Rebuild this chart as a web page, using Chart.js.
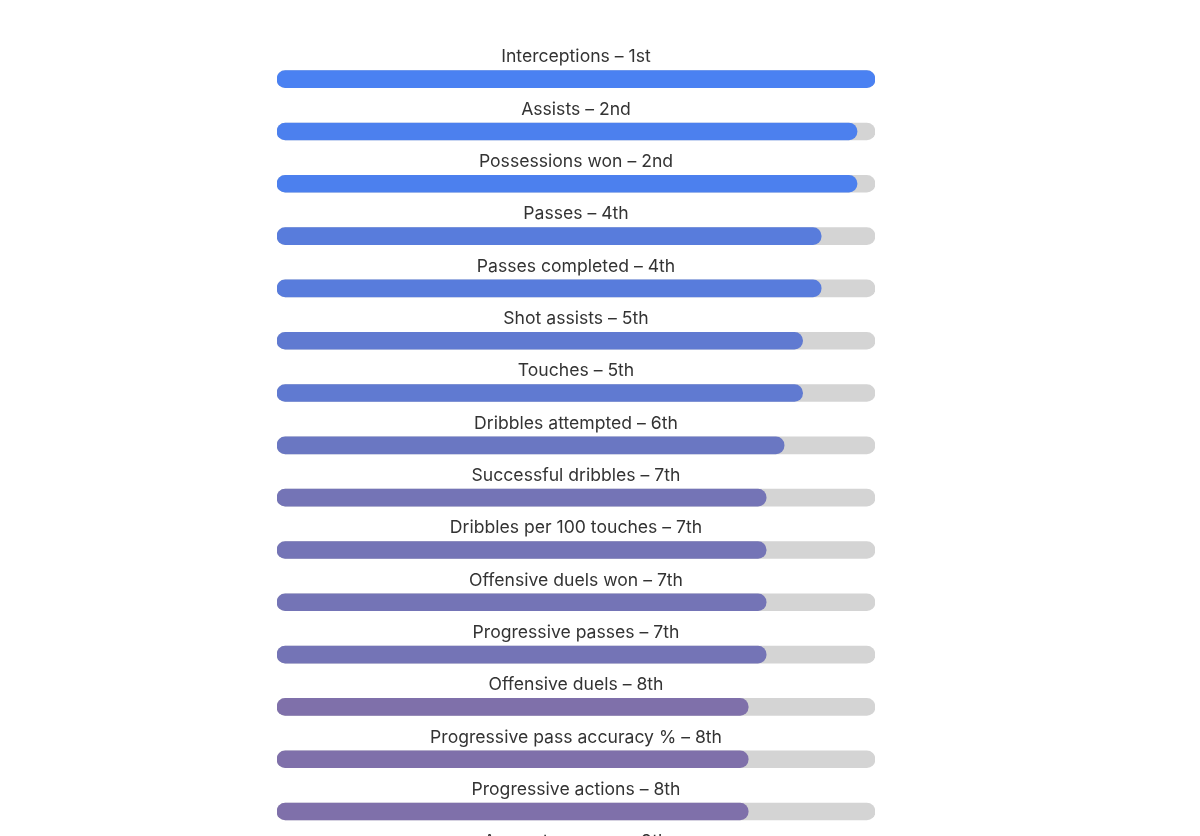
<!DOCTYPE html>
<html>
<head>
<meta charset="utf-8">
<script src="https://cdn.jsdelivr.net/npm/chart.js@4/dist/chart.umd.min.js"></script>
<style>
  html, body { margin: 0; padding: 0; background: #ffffff; overflow: hidden; }
  #wrap { position: relative; width: 1200px; height: 890px; }
</style>
</head>
<body>
<div id="wrap"><canvas id="c" width="1200" height="890"></canvas></div>
<script>
const categories = [
  "Interceptions", "Assists", "Possessions won", "Passes", "Passes completed",
  "Shot assists", "Touches", "Dribbles attempted", "Successful dribbles",
  "Dribbles per 100 touches", "Offensive duels won", "Progressive passes",
  "Offensive duels", "Progressive pass accuracy %", "Progressive actions",
  "Accurate passes"
];
const ranks = ["1st", "2nd", "2nd", "4th", "4th", "5th", "5th", "6th", "7th", "7th", "7th", "7th", "8th", "8th", "8th", "9th"];
const percentiles = [100, 97, 97, 91, 91, 87.9, 87.9, 84.8, 81.8, 81.8, 81.8, 81.8, 78.8, 78.8, 78.8, 75.8];
const trackValues = [100, 100, 100, 100, 100, 100, 100, 100, 100, 100, 100, 100, 100, 100, 100, 100];

const rankColors = {
  "1st": "#4a81f2", "2nd": "#4c80ee", "4th": "#587cdc", "5th": "#607ad1",
  "6th": "#6a77c2", "7th": "#7474b6", "8th": "#7f70aa", "9th": "#8470a5"
};

const labelPlugin = {
  id: "rowLabels",
  afterDatasetsDraw(chart) {
    const ctx = chart.ctx;
    const ys = chart.scales.y;
    const area = chart.chartArea;
    const cx = (area.left + area.right) / 2;
    ctx.save();
    ctx.font = "17.6px Inter, 'Noto Sans', sans-serif";
    ctx.fillStyle = "#333333";
    ctx.textAlign = "center";
    ctx.textBaseline = "middle";
    categories.forEach((c, i) => {
      ctx.fillText(c + " \u2013 " + ranks[i], cx, ys.getPixelForValue(i) - 22);
    });
    ctx.restore();
  }
};

new Chart(document.getElementById("c"), {
  type: "bar",
  data: {
    labels: categories,
    datasets: [
      {
        data: percentiles,
        backgroundColor: ranks.map(r => rankColors[r]),
        barThickness: 17,
        borderRadius: 9,
        borderSkipped: false,
        grouped: false
      },
      {
        data: trackValues,
        backgroundColor: "#d4d4d4",
        barThickness: 17,
        borderRadius: 9,
        borderSkipped: false,
        grouped: false
      }
    ]
  },
  options: {
    indexAxis: "y",
    responsive: false,
    animation: false,
    devicePixelRatio: 1,
    layout: { padding: { left: 277, right: 325, top: 53, bottom: 0 } },
    plugins: { legend: { display: false }, tooltip: { enabled: false } },
    scales: {
      x: { display: false, min: 0, max: 100 },
      y: { display: false }
    }
  },
  plugins: [labelPlugin]
});
</script>
</body>
</html>
